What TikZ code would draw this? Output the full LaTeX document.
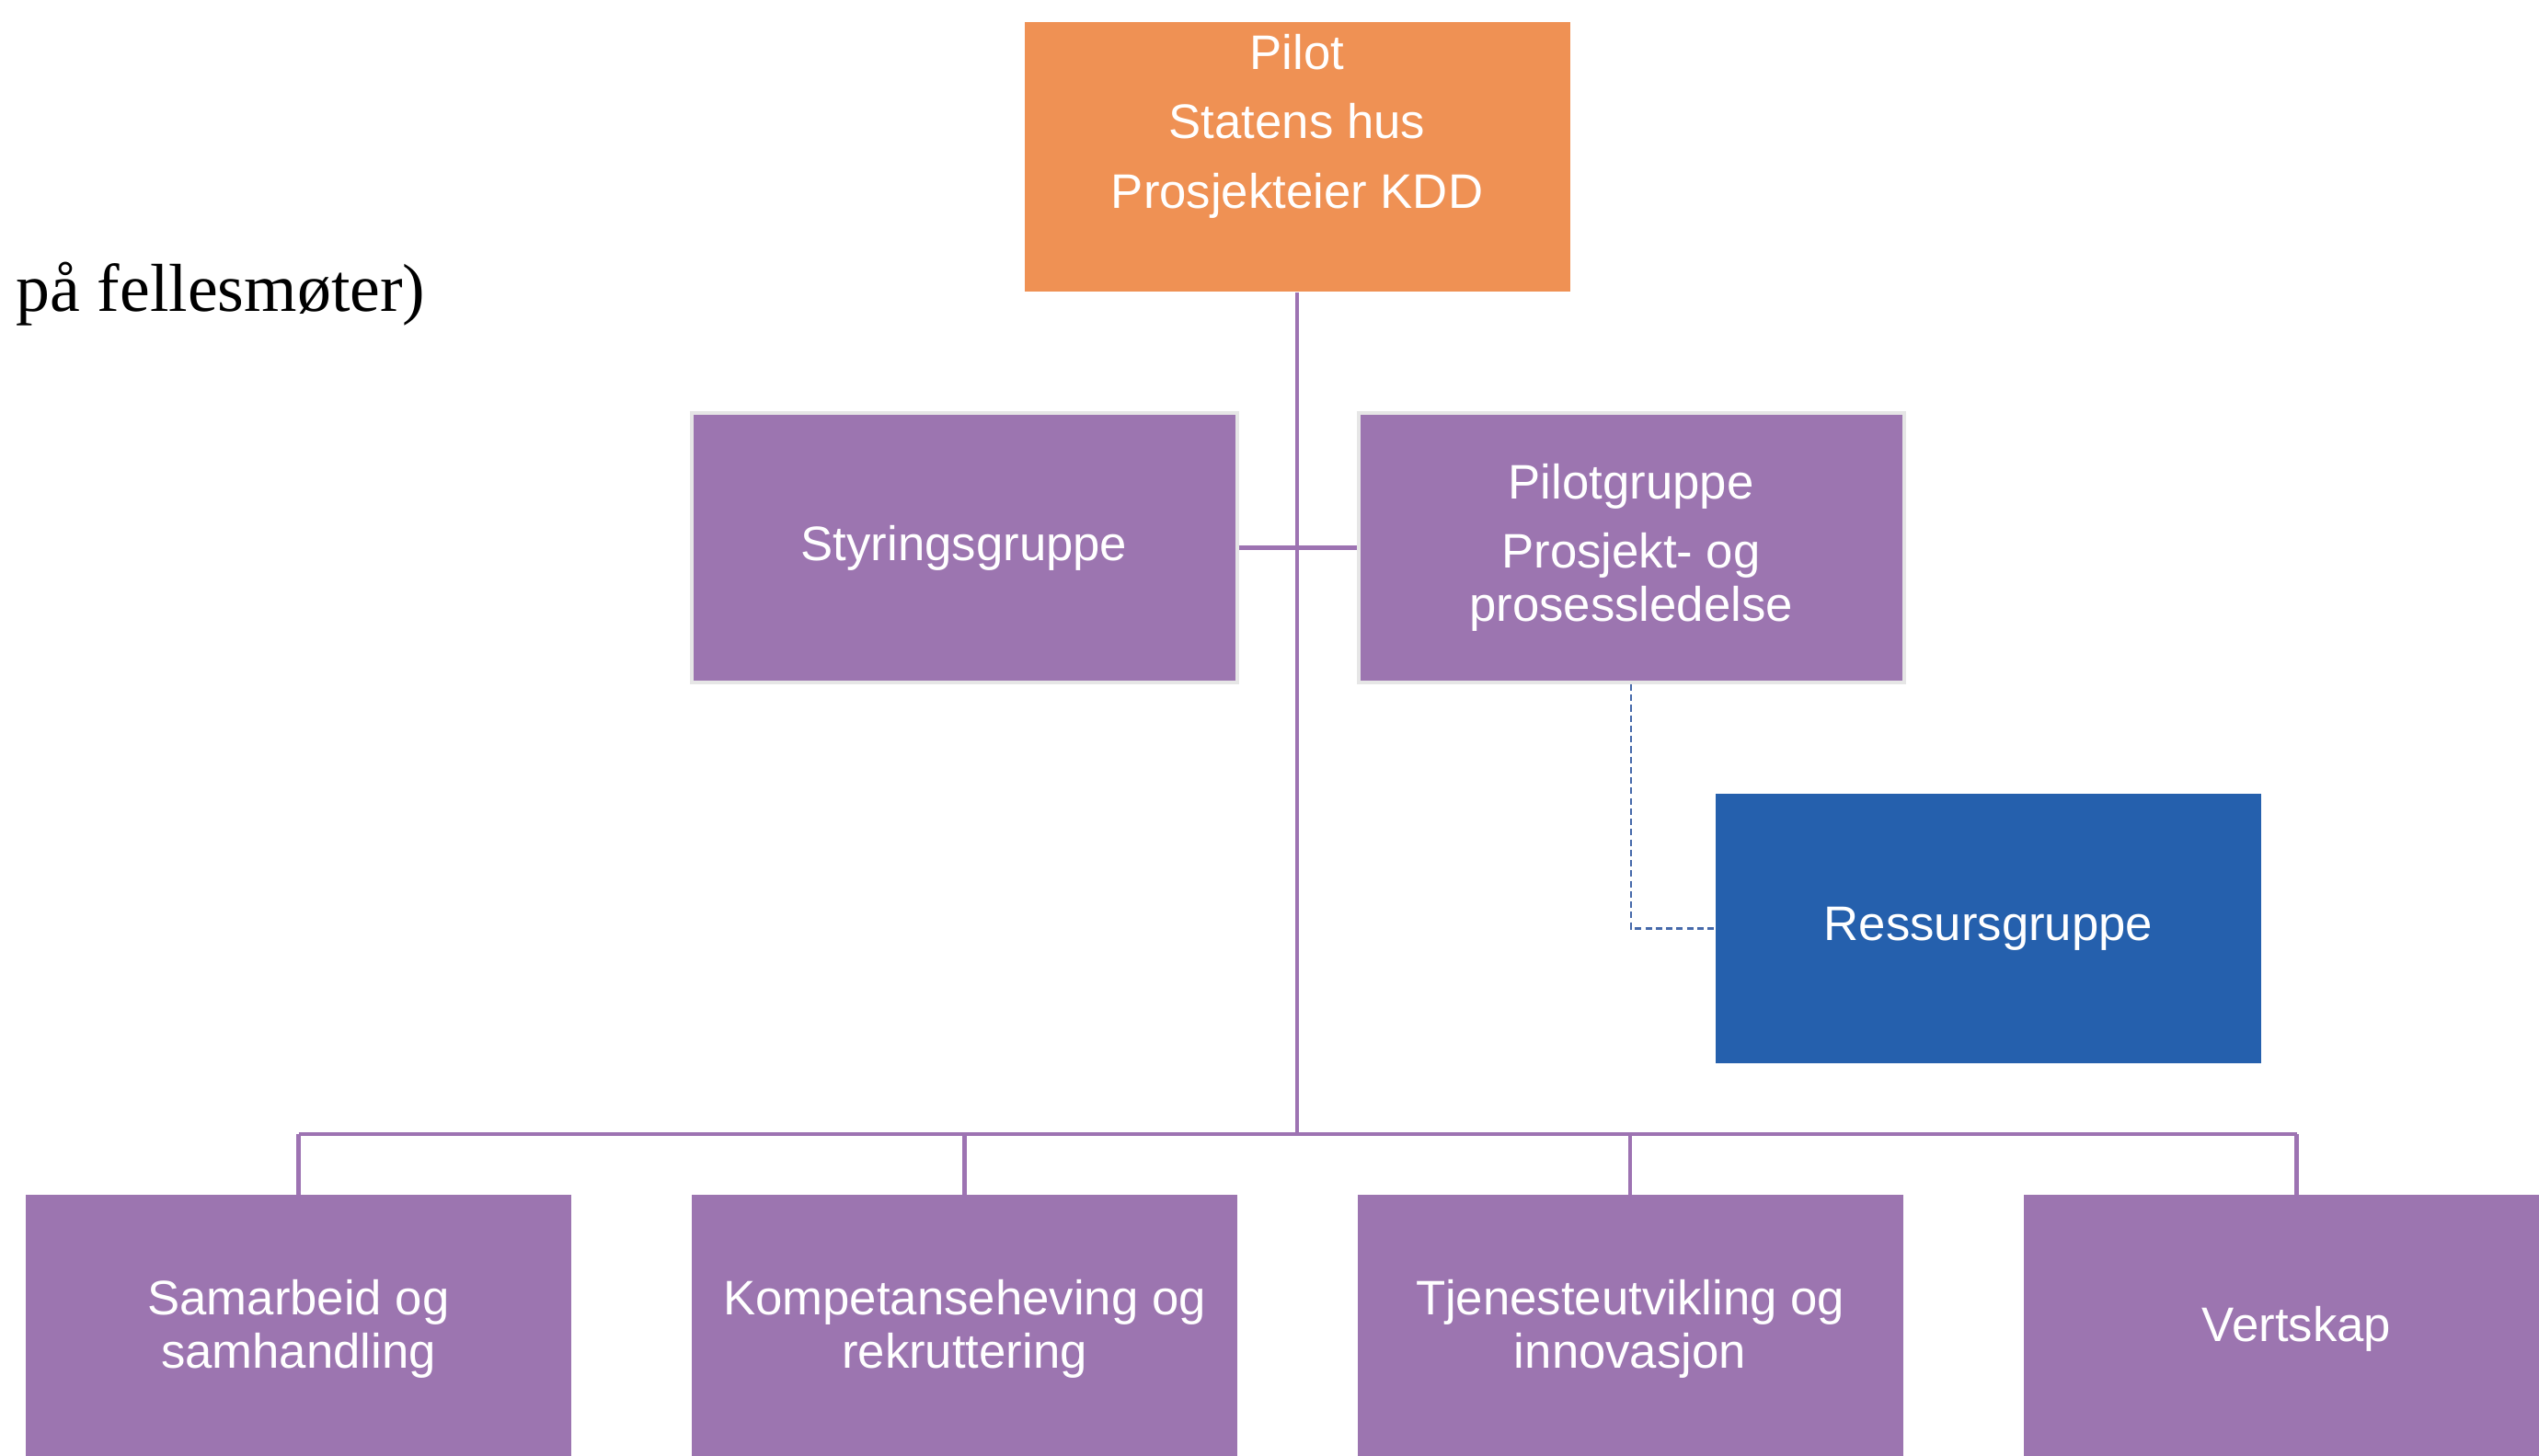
\documentclass[tikz,border=0pt]{standalone}
\usepackage{fontspec}
\setmainfont{Liberation Serif}
\setsansfont{Liberation Sans}
\tikzset{
  org-box/.style={
    rectangle,
    minimum width=5.93cm,
    minimum height=2.93cm,
    inner sep=0pt,
    align=center,
    text=white,
    font=\sffamily\fontsize{15}{16.4}\selectfont
  },
  box-orange/.style={org-box, fill=boxorange},
  box-purple/.style={org-box, fill=boxpurple},
  box-framed/.style={box-purple, draw=boxframe, line width=0.04cm},
  box-blue/.style={org-box, fill=boxblue},
  link/.style={draw=linepurple, line width=1.3pt},
  link-dashed/.style={draw=lineblue, line width=0.6pt, dash pattern=on 2pt off 1.2pt}
}
\definecolor{boxorange}{RGB}{239,145,84}
\definecolor{boxpurple}{RGB}{156,117,176}
\definecolor{boxframe}{RGB}{230,230,230}
\definecolor{boxblue}{RGB}{37,96,173}
\definecolor{linepurple}{RGB}{157,115,178}
\definecolor{lineblue}{RGB}{70,105,170}

\begin{document}
\begin{tikzpicture}
  \useasboundingbox (0,0) rectangle (27.6,-15.83);
  \clip (0,0) rectangle (27.6,-15.83);

  % Leftover text from the page
  \node[anchor=base west, inner sep=0pt, font=\fontsize{21}{24}\selectfont]
    (rest) at (0.17,-3.39) {på fellesmøter)};

  % Top of the chart
  \node[box-orange] (pilot) at (14.10,-1.71)
    {Pilot\\[5pt]Statens hus\\[5pt]Prosjekteier KDD\\[1pt]\strut};

  % Second row: steering and pilot groups
  \node[box-framed] (styring) at (10.48,-5.955) {Styringsgruppe};
  \node[box-framed] (pilotgruppe) at (17.73,-5.955)
    {Pilotgruppe\\[5pt]Prosjekt- og\\prosessledelse};

  % Assistant box
  \node[box-blue] (ressurs) at (21.615,-10.095) {Ressursgruppe};

  % Bottom row
  \node[box-purple] (samarbeid) at (3.245,-14.45) {Samarbeid og\\samhandling};
  \node[box-purple] (kompetanse) at (10.485,-14.45) {Kompetanseheving og\\rekruttering};
  \node[box-purple] (tjeneste) at (17.72,-14.45) {Tjenesteutvikling og\\innovasjon};
  \node[box-purple] (vertskap) at (24.965,-14.45) {Vertskap};

  % Trunk and branches
  \coordinate (bar) at (14.10,-12.33);
  \draw[link] (pilot.south) -- (pilot.south |- bar);
  \draw[link] (styring.east) -- (pilotgruppe.west);
  \draw[link] (samarbeid.north |- bar) -- (vertskap.north |- bar);
  \draw[link] (samarbeid.north |- bar) -- ([yshift=-0.06cm]samarbeid.north);
  \draw[link] (kompetanse.north |- bar) -- ([yshift=-0.06cm]kompetanse.north);
  \draw[link] (tjeneste.north |- bar) -- ([yshift=-0.06cm]tjeneste.north);
  \draw[link] (vertskap.north |- bar) -- ([yshift=-0.06cm]vertskap.north);

  % Dashed assistant link
  \draw[link-dashed] (pilotgruppe.south) |- (ressurs.west);

\end{tikzpicture}
\end{document}
